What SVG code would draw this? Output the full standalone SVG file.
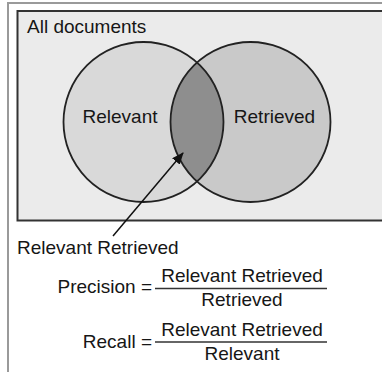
<svg xmlns="http://www.w3.org/2000/svg" width="382" height="372" viewBox="0 0 382 372">
  <style>
    text { font-family: "Liberation Sans", Arial, sans-serif; font-size: 19px; fill: #161616; }
    .ring { stroke: #222; stroke-width: 1.8; }
    .frac { stroke: #333; stroke-width: 1.4; }
  </style>
  <defs>
    <clipPath id="leftDisc">
      <circle cx="143.5" cy="122" r="80"/>
    </clipPath>
    <marker id="head" viewBox="0 0 12 10" refX="11" refY="5" markerWidth="12" markerHeight="10" markerUnits="userSpaceOnUse" orient="auto">
      <path d="M0,0 L12,5 L0,10 Z" fill="#111"/>
    </marker>
  </defs>

  <rect width="382" height="372" fill="#ffffff"/>
  <!-- page frame -->
  <path d="M8,372 V3 H382" fill="none" stroke="#9a9a9a" stroke-width="2"/>

  <g id="universe">
    <rect x="17.5" y="11" width="380" height="209.5" fill="#ebebeb" stroke="#333" stroke-width="2"/>
    <text x="27" y="33">All documents</text>
  </g>

  <g id="relevant">
    <circle cx="143.5" cy="122" r="80" fill="#d9d9d9"/>
  </g>
  <g id="retrieved">
    <circle cx="250.5" cy="122" r="80" fill="#c9c9c9"/>
  </g>
  <g id="relevant-retrieved">
    <circle cx="250.5" cy="122" r="80" fill="#8e8e8e" clip-path="url(#leftDisc)"/>
  </g>
  <g id="outlines">
    <circle class="ring" cx="143.5" cy="122" r="80" fill="none"/>
    <circle class="ring" cx="250.5" cy="122" r="80" fill="none"/>
  </g>
  <text x="120" y="123" text-anchor="middle">Relevant</text>
  <text x="274.5" y="123" text-anchor="middle">Retrieved</text>

  <g id="connectors">
    <line x1="113" y1="236" x2="183" y2="153" stroke="#111" stroke-width="1.5" marker-end="url(#head)"/>
  </g>

  <g id="callout">
    <text x="17" y="254">Relevant Retrieved</text>
  </g>

  <g id="precision">
    <text x="152" y="292.5" text-anchor="end">Precision =</text>
    <line class="frac" x1="155" y1="288.5" x2="327" y2="288.5"/>
    <text x="242" y="281.5" text-anchor="middle">Relevant Retrieved</text>
    <text x="242" y="305.5" text-anchor="middle">Retrieved</text>
  </g>

  <g id="recall">
    <text x="152" y="347.5" text-anchor="end">Recall =</text>
    <line class="frac" x1="155" y1="342" x2="327" y2="342"/>
    <text x="242" y="335.5" text-anchor="middle">Relevant Retrieved</text>
    <text x="242" y="360" text-anchor="middle">Relevant</text>
  </g>
</svg>
